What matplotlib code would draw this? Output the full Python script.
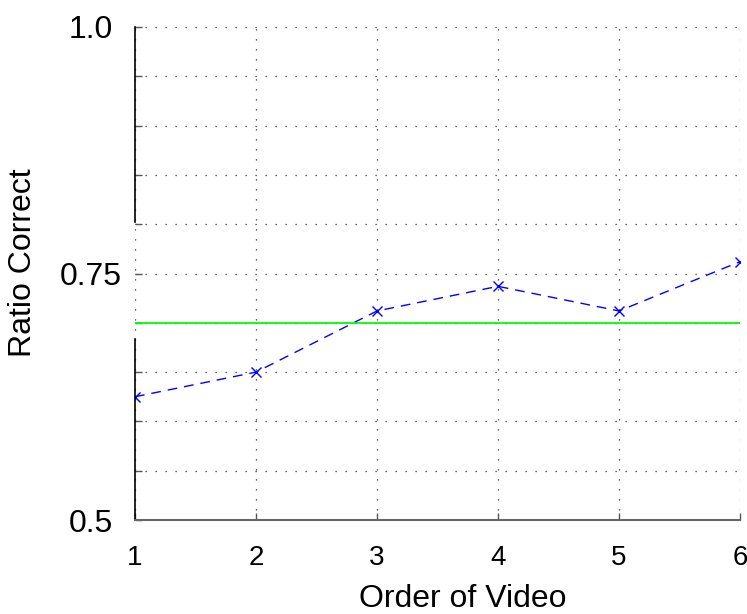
import matplotlib
matplotlib.use("Agg")
import matplotlib.pyplot as plt
from matplotlib.ticker import MultipleLocator, FixedLocator

plt.rcParams['font.family'] = ['Liberation Sans', 'DejaVu Sans']

order = [1, 2, 3, 4, 5, 6]
ratio_correct = [0.625, 0.650, 0.712, 0.737, 0.712, 0.762]
baseline = 0.70
y_major = [0.5, 0.75, 1.0]
y_major_labels = ['0.5', '0.75', '1.0']

fig = plt.figure(figsize=(7.47, 6.14), dpi=100)
ax = fig.add_axes([135/747, 94/614, 605/747, 493/614])

ax.plot(order, ratio_correct, linestyle=(0, (7, 5)), color='blue', linewidth=1.0,
        marker='x', markersize=7, markeredgewidth=1.0)
ax.axhline(baseline, color='#00ff00', linewidth=1.3)

ax.set_xlim(1, 6)
ax.set_ylim(0.5, 1.0)
ax.xaxis.set_major_locator(FixedLocator(order))
ax.yaxis.set_major_locator(FixedLocator(y_major))
ax.set_yticklabels(y_major_labels, ha='center')
ax.yaxis.set_minor_locator(MultipleLocator(0.05))

ax.grid(True, which='both', linestyle=(0, (1, 7)), color='#333333', linewidth=0.9)
ax.tick_params(which='both', direction='in', length=5, width=1, color='#555555')
ax.tick_params(axis='y', which='major', labelsize=23, pad=32)
ax.tick_params(axis='x', which='major', labelsize=20, pad=18)

for s in ['top', 'right']:
    ax.spines[s].set_visible(False)
ax.spines['bottom'].set_color('#666666')
ax.spines['bottom'].set_linewidth(1.5)
ax.spines['left'].set_visible(False)
ax.axvline(1, ymin=0, ymax=0.367, color='black', linewidth=1.2, clip_on=False)
ax.axvline(1, ymin=0.604, ymax=1.0, color='black', linewidth=1.2, clip_on=False)

ax.set_xlabel('Order of Video', fontsize=23, va='top')
ax.xaxis.set_label_coords(0.542, -0.130)
ax.set_ylabel('Ratio Correct', fontsize=23, va='center')
ax.yaxis.set_label_coords(-0.185, 0.522)

fig.savefig('out.png', dpi=100)
